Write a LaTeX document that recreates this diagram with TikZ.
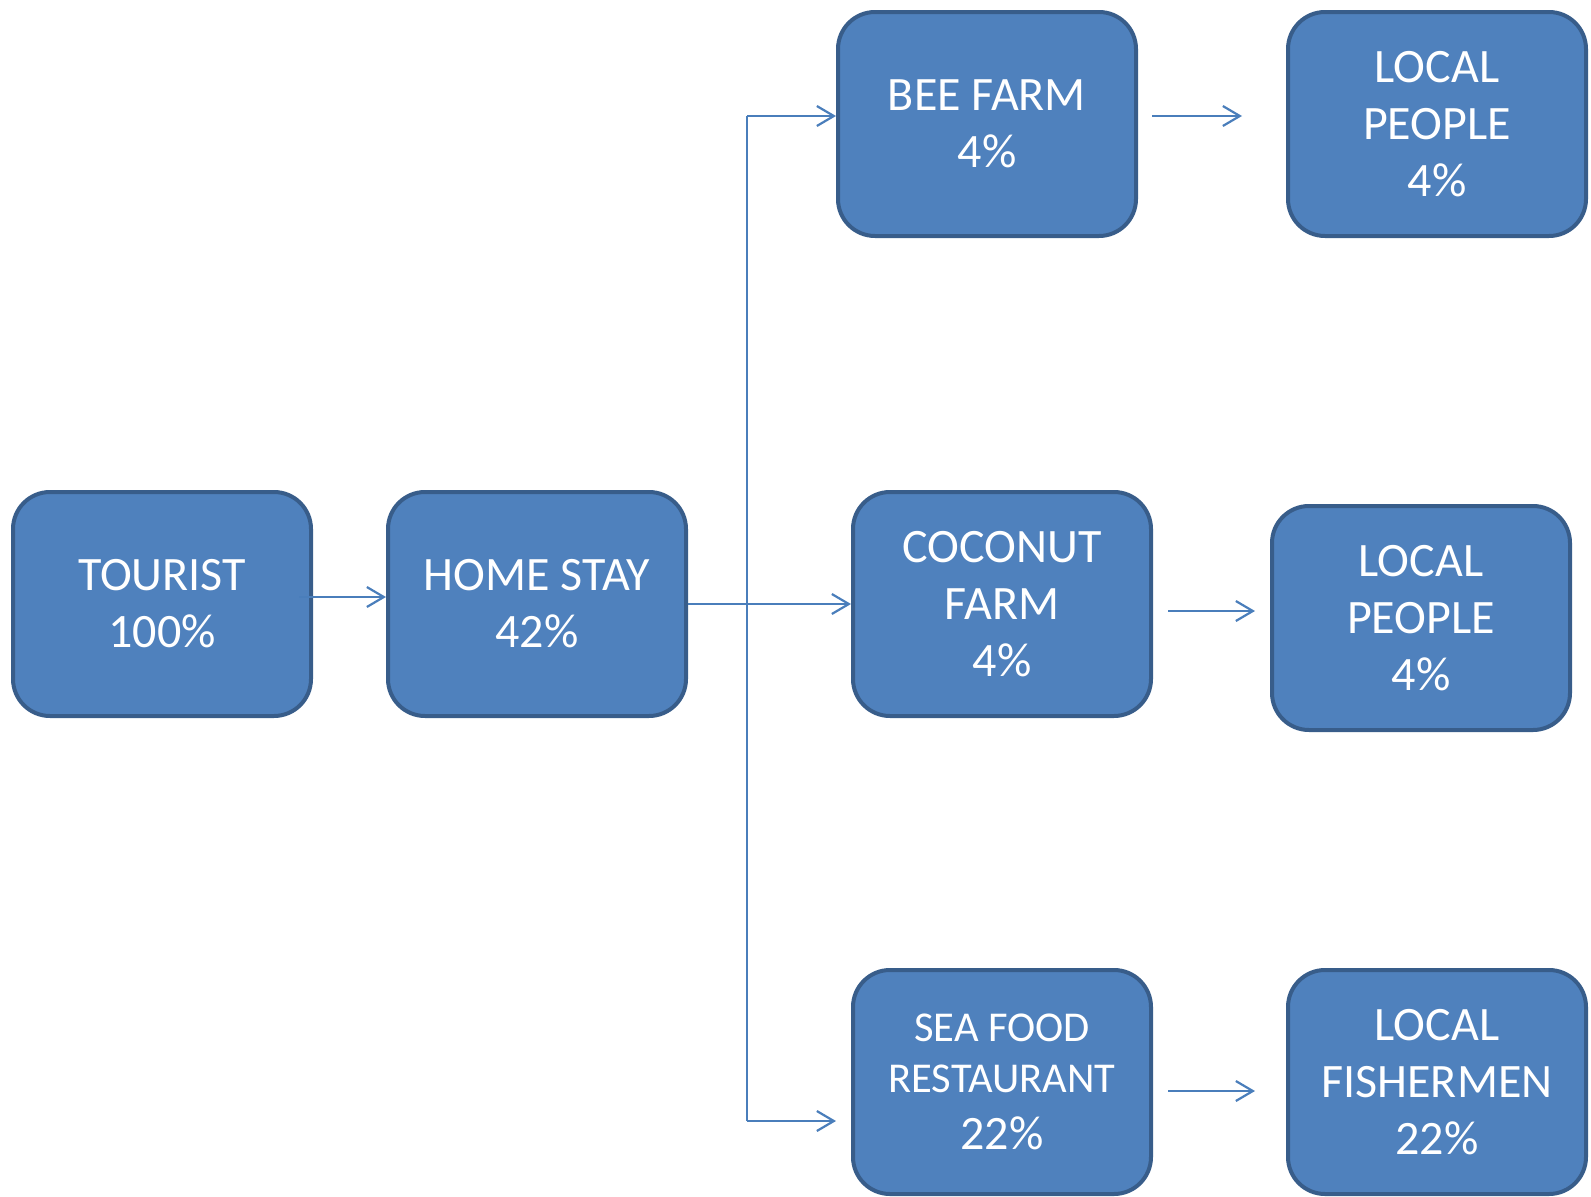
\documentclass[tikz,border=0pt]{standalone}
\usepackage{fontspec}
\setmainfont{Carlito}
\usetikzlibrary{arrows.meta}
\definecolor{boxfill}{HTML}{4F81BD}
\definecolor{boxline}{HTML}{385D8A}
\definecolor{arrowblue}{HTML}{4A7EBB}
\tikzset{
  card/.style={rectangle, rounded corners=37pt, fill=boxfill, draw=boxline,
    line width=4pt, minimum width=298pt, minimum height=224pt,
    text=white, align=center, inner sep=0pt,
    font=\fontsize{48}{57}\selectfont},
  flow/.style={draw=arrowblue, line width=2.2pt,
    -{Straight Barb[length=17pt,width=20pt,line width=2.2pt]}},
  trunk/.style={draw=arrowblue, line width=2.2pt}
}
\begin{document}
\begin{tikzpicture}[x=1pt,y=-1pt]
\useasboundingbox (0,0) rectangle (1591,1197);

% boxes
\node[card] (tourist) at (162,604) {TOURIST\\100\%};
\node[card] (home)    at (537,604) {HOME STAY\\42\%};
\node[card] (bee)     at (987,124) {BEE FARM\\4\%};
\node[card] (lp1)     at (1437,124) {LOCAL\\PEOPLE\\4\%};
\node[card] (coconut) at (1002,604) {COCONUT\\FARM\\4\%};
\node[card] (lp2)     at (1421,618) {LOCAL\\PEOPLE\\4\%};
\node[card] (sea)     at (1002,1082) {\fontsize{42.5}{51}\selectfont SEA FOOD\\[-6pt]\fontsize{42.5}{51}\selectfont RESTAURANT\\\fontsize{48}{57}\selectfont 22\%};
\node[card] (fish)    at (1437,1082) {LOCAL\\FISHERMEN\\22\%};

% branching point of the home-stay connector
\coordinate (split) at (747,604);
\coordinate (splittop) at (747,116);
\coordinate (splitbot) at (747,1121);
\coordinate (seatip) at (836,1121);

% connectors
\draw[flow] ([xshift=-14pt]tourist.east |- 0,597) -- (home.west |- 0,597);
\draw[trunk] (home.east) -- (split);
\draw[flow] (split) -- (coconut.west);
\draw[trunk] (splittop) -- (splitbot);
\draw[flow] (splittop) -- (bee.west |- splittop);
\draw[flow] (splitbot) -- (seatip);

\draw[flow] ([xshift=14pt]bee.east |- 0,116) -- ([xshift=-44pt]lp1.west |- 0,116);
\draw[flow] ([xshift=15pt]coconut.east |- 0,611) -- ([xshift=-15pt]lp2.west |- 0,611);
\draw[flow] ([xshift=15pt]sea.east |- 0,1091) -- ([xshift=-31pt]fish.west |- 0,1091);
\end{tikzpicture}
\end{document}
